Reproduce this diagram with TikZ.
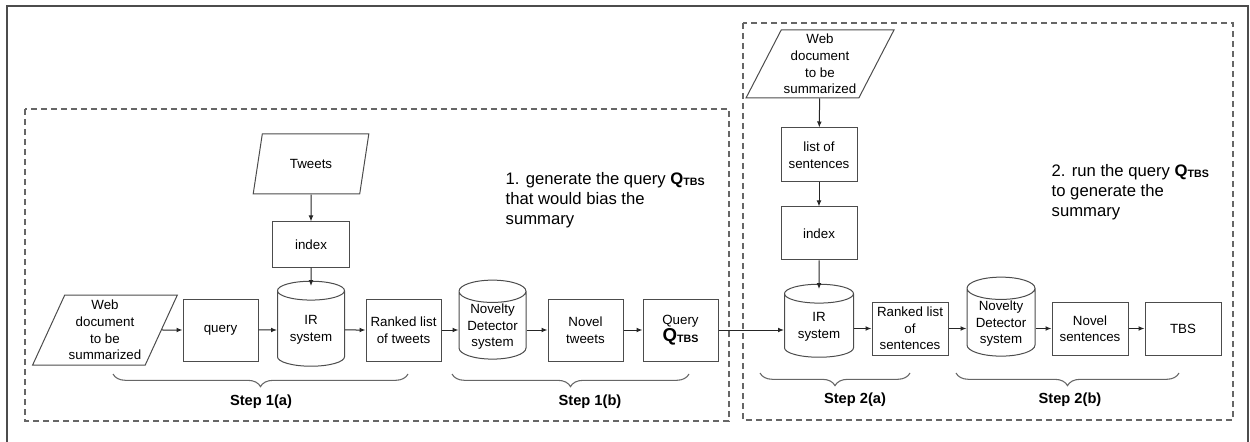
\documentclass[tikz,border=0pt]{standalone}
\usepackage{fontspec}
\setmainfont{Liberation Sans}
\usetikzlibrary{shapes,arrows.meta,decorations.pathreplacing}

\newcommand{\Qtbs}[2]{{\fontsize{#1}{#1}\selectfont\bfseries Q}\raisebox{-1pt}{\fontsize{#2}{#2}\selectfont\bfseries TBS}}

\tikzset{
  box/.style={draw=black!70, line width=0.75pt, align=center, inner sep=1pt,
    font=\fontsize{10}{12.4}\selectfont},
  doc/.style={box, trapezium, trapezium left angle=#1, trapezium right angle=180-#1,
    trapezium stretches, inner sep=0pt},
  store/.style={box, cylinder, shape border rotate=90, aspect=0.42},
  group/.style={draw=black!60, line width=0.8pt, dash pattern=on 4.5pt off 3pt},
  brc/.style={draw=black!60, line width=0.8pt, decorate,
    decoration={brace, mirror, amplitude=9.5pt}},
  steplabel/.style={font=\fontsize{11}{13}\selectfont\bfseries},
  remark/.style={align=left, anchor=west, font=\fontsize{12.5}{15}\selectfont},
}

\begin{document}
\begin{tikzpicture}
[
x=0.75pt, y=-0.75pt,
>={Latex[length=4.5pt,width=3.6pt]},
every edge/.style={draw=black!85, line width=0.75pt}
]
\useasboundingbox (0,0) rectangle (1250,442);
\draw[black!70, line width=0.9pt] (7,460) -- (7,6) -- (1248,6) -- (1248,460);

% the two stages
\draw[group] (25,109) rectangle (729,421);
\draw[group] (743,23) rectangle (1233,420);

% stage 1
\node[doc=64, minimum width=108.75pt, minimum height=52.5pt] (web1) at (105,330) {Web\\document\\to be\\summarized};
\node[box, minimum width=56.25pt, minimum height=46.5pt] (query) at (220.5,330) {query};
\node[store, minimum width=50.25pt, minimum height=63.75pt] (ir1) at (311,330) {IR\\system};
\node[box, minimum width=56.25pt, minimum height=46.5pt] (rank1) at (403.5,330) {Ranked list\\of tweets};
\node[store, minimum width=50.25pt, minimum height=54.75pt] (nov1) at (492.5,327) {Novelty\\Detector\\system};
\node[box, minimum width=56.25pt, minimum height=46.5pt] (ntweets) at (585.5,330) {Novel\\tweets};
\node[box, minimum width=56.25pt, minimum height=46.5pt] (qq) at (680.5,330) {Query\\\Qtbs{14}{8}};
\node[doc=67, minimum width=87pt, minimum height=45pt] (tweets) at (311,164) {Tweets};
\node[box, minimum width=57.75pt, minimum height=33.75pt] (index1) at (311,244.5) {index};
\node[remark] (note1) at (501,200) {1. generate the query \Qtbs{12.5}{8}\\that would bias the\\summary};

% stage 2
\node[doc=61, minimum width=111pt, minimum height=51pt] (web2) at (820,64) {Web\\document\\to be\\summarized};
\node[box, minimum width=57pt, minimum height=40.5pt] (sents) at (819,155) {list of\\sentences};
\node[box, minimum width=57pt, minimum height=39.75pt] (index2) at (819,233.5) {index};
\node[store, minimum width=51.75pt, minimum height=54.75pt] (ir2) at (819,327) {IR\\system};
\node[box, minimum width=57pt, minimum height=39.75pt] (rank2) at (910,328.5) {Ranked list\\of\\sentences};
\node[store, minimum width=51pt, minimum height=58.5pt] (nov2) at (1001,324) {Novelty\\Detector\\system};
\node[box, minimum width=57pt, minimum height=39.75pt] (nsents) at (1090,328.5) {Novel\\sentences};
\node[box, minimum width=57pt, minimum height=39.75pt] (tbs) at (1183,328.5) {TBS};
\node[remark] (note2) at (1047,192) {2. run the query \Qtbs{12.5}{8}\\to generate the\\summary};

\path[->]
(web1)	edge	(query)
(query)	edge	(ir1)
(ir1)	edge	(rank1)
(rank1.east)	edge	(rank1.east -| nov1.west)
(nov1.east |- ntweets.west)	edge	(ntweets.west)
(ntweets)	edge	(qq)
(qq.east)	edge	(qq.east -| ir2.west)
(tweets)	edge	(index1)
(index1)	edge	([yshift=-4pt]ir1.north)
(web2)	edge	(sents)
(sents)	edge	(index2)
(index2)	edge	([yshift=-4pt]ir2.north)
(ir2.east |- rank2.west)	edge	(rank2.west)
(rank2.east)	edge	(rank2.east -| nov2.west)
(nov2.east |- nsents.west)	edge	(nsents.west)
(nsents)	edge	(tbs);

% steps
\draw[brc] (113,374) -- (408,374);
\draw[brc] (452,374) -- (689,374);
\draw[brc] (760,373) -- (910,373);
\draw[brc] (956,373) -- (1179,373);
\node[steplabel] (s1a) at (261,402) {Step 1(a)};
\node[steplabel] (s1b) at (590,402) {Step 1(b)};
\node[steplabel] (s2a) at (855,400) {Step 2(a)};
\node[steplabel] (s2b) at (1070,400) {Step 2(b)};
\end{tikzpicture}
\end{document}
